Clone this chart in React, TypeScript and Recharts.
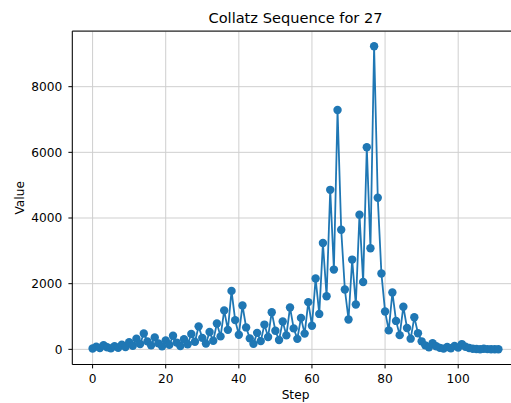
import React from "react";
import { LineChart, Line, XAxis, YAxis, CartesianGrid, ReferenceLine } from "recharts";

const values: number[] = [
  27, 82, 41, 124, 62, 31, 94, 47, 142, 71, 214, 107, 322, 161, 484, 242, 121, 364, 182, 91,
  274, 137, 412, 206, 103, 310, 155, 466, 233, 700, 350, 175, 526, 263, 790, 395, 1186, 593, 1780, 890,
  445, 1336, 668, 334, 167, 502, 251, 754, 377, 1132, 566, 283, 850, 425, 1276, 638, 319, 958, 479, 1438,
  719, 2158, 1079, 3238, 1619, 4858, 2429, 7288, 3644, 1822, 911, 2734, 1367, 4102, 2051, 6154, 3077, 9232, 4616, 2308,
  1154, 577, 1732, 866, 433, 1300, 650, 325, 976, 488, 244, 122, 61, 184, 92, 46, 23, 70, 35, 106,
  53, 160, 80, 40, 20, 10, 5, 16, 8, 4, 2, 1,
];
const xTicks: number[] = [0, 20, 40, 60, 80, 100];
const yTicks: number[] = [0, 2000, 4000, 6000, 8000];
const title = "Collatz Sequence for 27";
const xLabel = "Step";
const yLabel = "Value";

const data = values.map((v, i) => ({ step: i, value: v }));

const FONT = "DejaVu Sans, sans-serif";
const COLOR = "#1f77b4";

export default function App() {
  return (
    <div style={{ position: "absolute", left: 0, top: 0, width: 511, height: 403, overflow: "hidden", background: "#fff" }}>
      <LineChart
        width={525}
        height={403}
        data={data}
        margin={{ top: 31.1, right: 6.3, bottom: 0, left: 0 }}
      >
        <CartesianGrid stroke="#cfcfcf" strokeWidth={1} />
        <XAxis
          dataKey="step"
          type="number"
          domain={[-5.55, 116.55]}
          ticks={xTicks}
          allowDataOverflow
          height={38.5}
          axisLine={{ stroke: "#000", strokeWidth: 1 }}
          tickLine={{ stroke: "#000", strokeWidth: 1 }}
          tickSize={3.9}
          tickMargin={6}
          tick={{ fill: "#000", fontSize: 12.2, fontFamily: FONT }}
        />
        <YAxis
          type="number"
          domain={[-461.55, 9692.55]}
          ticks={yTicks}
          allowDataOverflow
          width={72.3}
          axisLine={{ stroke: "#000", strokeWidth: 1 }}
          tickLine={{ stroke: "#000", strokeWidth: 1 }}
          tickSize={3.9}
          tickMargin={6}
          tick={{ fill: "#000", fontSize: 12.2, fontFamily: FONT }}
        />
        <ReferenceLine y={9692.55} stroke="#000" strokeWidth={1} />
        <Line
          type="linear"
          dataKey="value"
          stroke={COLOR}
          strokeWidth={1.8}
          dot={{ r: 4.2, fill: COLOR, stroke: COLOR, strokeWidth: 0 }}
          activeDot={false}
          isAnimationActive={false}
        />
      </LineChart>
      <svg
        width={511}
        height={403}
        style={{ position: "absolute", left: 0, top: 0, pointerEvents: "none" }}
      >
        <text x={295.5} y={23.3} textAnchor="middle" fontFamily={FONT} fontSize={14.6} fill="#000">
          {title}
        </text>
        <text x={295.5} y={398.7} textAnchor="middle" fontFamily={FONT} fontSize={12.2} fill="#000">
          {xLabel}
        </text>
        <text
          x={24}
          y={197.8}
          textAnchor="middle"
          fontFamily={FONT}
          fontSize={12.2}
          fill="#000"
          transform="rotate(-90, 24, 197.8)"
        >
          {yLabel}
        </text>
      </svg>
    </div>
  );
}
